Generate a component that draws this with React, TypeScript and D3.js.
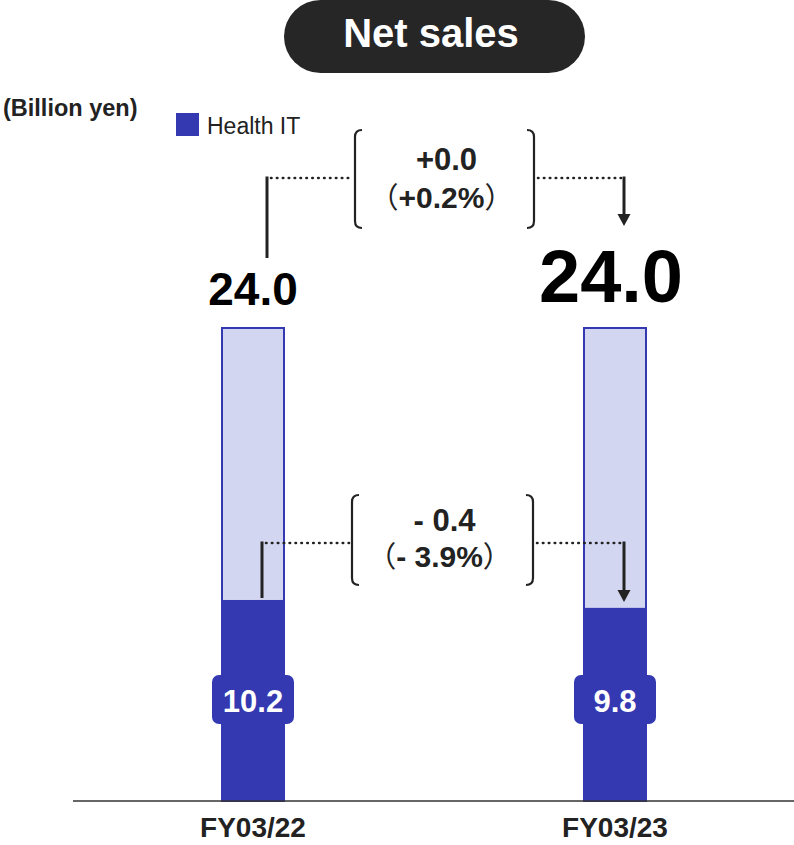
import React from "react";
import * as d3 from "d3";

const categories = ["FY03/22", "FY03/23"];
const totals = [24.0, 24.0];
const healthIT = [10.2, 9.8];
const totalLabels = ["24.0", "24.0"];
const segLabels = ["10.2", "9.8"];
const totalChange = ["+0.0", "+0.2%"];
const segChange = ["- 0.4", "- 3.9%"];

const W = 794;
const H = 845;
const DARK = "#3439B2";
const LIGHT = "#D3D6F1";
const INK = "#222222";
const FONT = "'Liberation Sans', Arial, Helvetica, sans-serif";
const CJK = "'Noto Sans CJK JP', sans-serif";

function Bracket({ x, y1, y2, side }: { x: number; y1: number; y2: number; side: "l" | "r" }) {
  const d = side === "l" ? 7 : -7;
  const r = 7;
  const p = `M${x + d},${y1} Q${x},${y1} ${x},${y1 + r} L${x},${y2 - r} Q${x},${y2} ${x + d},${y2}`;
  return <path d={p} fill="none" stroke={INK} strokeWidth={2.2} />;
}

function Annotation({ yLine, xStart, xEnd, stemTop, stemBottom, arrowBottom, lines, bTop, bBot, bL, bR, y1, y2 }: any) {
  const cx = (bL + bR) / 2;
  return (
    <g>
      <line x1={xStart} x2={xStart} y1={stemTop} y2={stemBottom} stroke={INK} strokeWidth={3} />
      <line x1={xStart + 4} x2={bL - 3} y1={yLine} y2={yLine} stroke={INK} strokeWidth={2.6} strokeDasharray="0.5 5.4" strokeLinecap="round" />
      <Bracket x={bL} y1={bTop} y2={bBot} side="l" />
      <Bracket x={bR} y1={bTop} y2={bBot} side="r" />
      <line x1={bR + 4} x2={xEnd - 3} y1={yLine} y2={yLine} stroke={INK} strokeWidth={2.6} strokeDasharray="0.5 5.4" strokeLinecap="round" />
      <line x1={xEnd} x2={xEnd} y1={yLine - 1.5} y2={arrowBottom - 8} stroke={INK} strokeWidth={3} />
      <path d={`M${xEnd - 6.5},${arrowBottom - 12} L${xEnd + 6.5},${arrowBottom - 12} L${xEnd},${arrowBottom} Z`} fill={INK} />
      <text x={cx + 2} y={y1} textAnchor="middle" fontFamily={FONT} fontWeight="bold" fontSize={31} fill={INK}>{lines[0]}</text>
      <text x={cx - 3} y={y2} textAnchor="middle" fontFamily={FONT} fontWeight="bold" fontSize={30} fill={INK}>
        <tspan fontFamily={CJK} fontWeight="normal" fontSize={29}>（</tspan>
        <tspan>{lines[1]}</tspan>
        <tspan fontFamily={CJK} fontWeight="normal" fontSize={29}>）</tspan>
      </text>
    </g>
  );
}

export default function App() {
  const x = d3.scalePoint<string>().domain(categories).range([253, 615]);
  const y = d3.scaleLinear().domain([0, 24]).range([801, 328]);
  const bw = 62;
  const x0 = x(categories[0])!;
  const x1 = x(categories[1])!;

  return (
    <svg width={W} height={H} style={{ position: "absolute", left: 0, top: 0 }}>
      <rect width={W} height={H} fill="#fff" />
      {/* title */}
      <rect x={284} y={0} width={301} height={73} rx={36.5} fill="#262626" />
      <text x={431} y={47} textAnchor="middle" fontFamily={FONT} fontWeight="bold" fontSize={40} fill="#fff">Net sales</text>
      {/* unit and legend */}
      <text x={3} y={116} fontFamily={FONT} fontWeight="bold" fontSize={23.5} fill={INK}>(Billion yen)</text>
      <rect x={176} y={113} width={23} height={23} fill={DARK} />
      <text x={207} y={134} fontFamily={FONT} fontSize={23} fill={INK}>Health IT</text>

      {/* bars */}
      {categories.map((c, i) => {
        const cx = x(c)!;
        return (
          <g key={c}>
            <rect x={cx - bw / 2} y={y(totals[i])} width={bw} height={y(0) - y(totals[i])} fill={LIGHT} stroke={DARK} strokeWidth={2} />
            <rect x={cx - bw / 2 - 1} y={y(healthIT[i])} width={bw + 2} height={y(0) - y(healthIT[i])} fill={DARK} />
          </g>
        );
      })}
      {/* baseline */}
      <line x1={73} x2={794} y1={y(0)} y2={y(0)} stroke="#333" strokeWidth={1.5} />

      {/* segment labels */}
      {categories.map((c, i) => {
        const cx = x(c)!;
        return (
          <g key={"s" + c}>
            <rect x={cx - 41} y={675} width={82} height={49} rx={7} fill={DARK} />
            <text x={cx} y={712} textAnchor="middle" fontFamily={FONT} fontWeight="bold" fontSize={31} fill="#fff">{segLabels[i]}</text>
          </g>
        );
      })}

      {/* total labels */}
      <text x={x0} y={305} textAnchor="middle" fontFamily={FONT} fontWeight="bold" fontSize={46} fill="#000">{totalLabels[0]}</text>
      <text x={x1 - 4} y={302} textAnchor="middle" fontFamily={FONT} fontWeight="bold" fontSize={74} fill="#000">{totalLabels[1]}</text>

      {/* category labels */}
      {categories.map((c) => (
        <text key={"c" + c} x={x(c)!} y={837} textAnchor="middle" fontFamily={FONT} fontWeight="bold" fontSize={28} fill={INK}>{c}</text>
      ))}

      {/* annotations */}
      <Annotation yLine={178} xStart={267} xEnd={624} stemTop={176.5} stemBottom={258} arrowBottom={226}
        lines={totalChange} bTop={130} bBot={228} bL={355} bR={534} y1={170} y2={208} />
      <Annotation yLine={543} xStart={262} xEnd={624} stemTop={541.5} stemBottom={598} arrowBottom={602}
        lines={segChange} bTop={495} bBot={585} bL={352} bR={533} y1={531} y2={567} />
    </svg>
  );
}
